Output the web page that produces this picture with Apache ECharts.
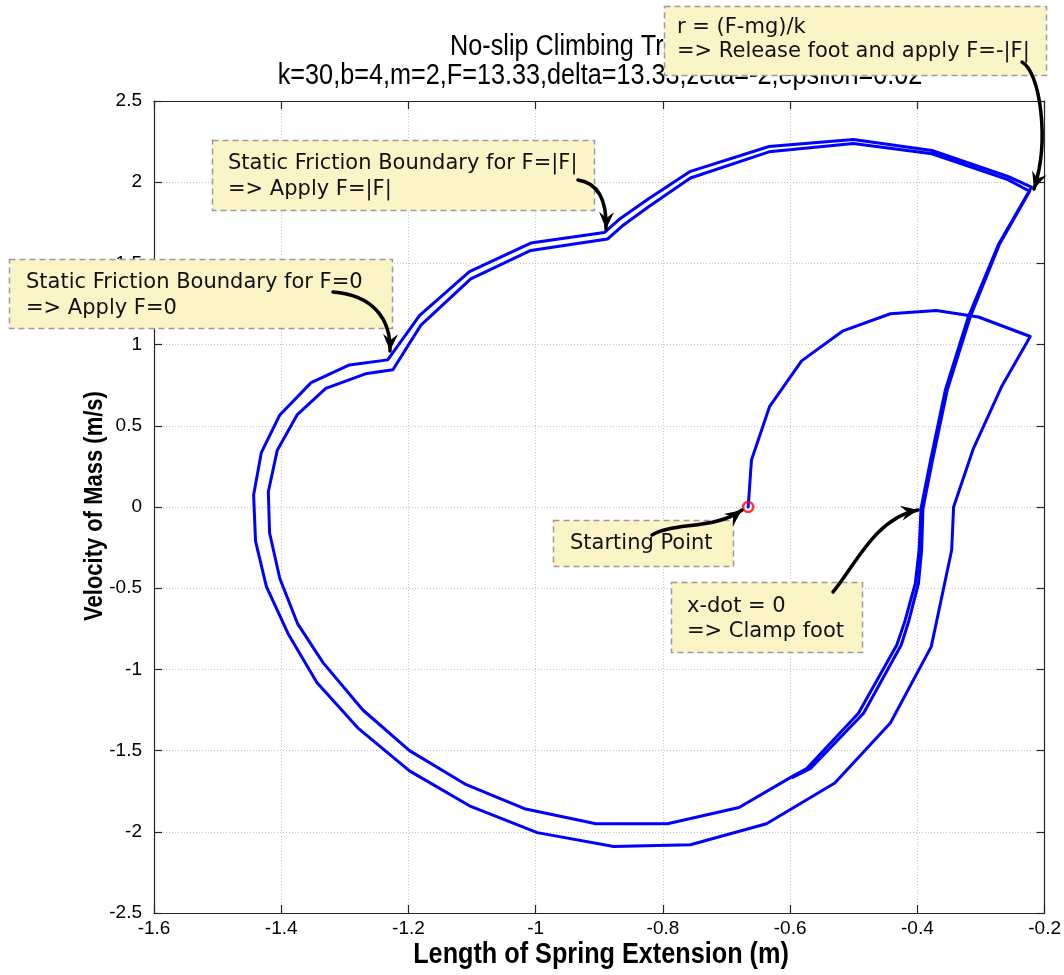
<!DOCTYPE html>
<html>
<head>
<meta charset="utf-8">
<script src="https://cdn.jsdelivr.net/npm/echarts@6/dist/echarts.min.js"></script>
<style>
  html, body { margin: 0; padding: 0; background: #fff; overflow: hidden; }
  #chart { width: 1064px; height: 975px; }
</style>
</head>
<body>
<div id="chart"></div>
<script>
// ---------------- data ----------------
const xTicks = [-1.6, -1.4, -1.2, -1.0, -0.8, -0.6, -0.4, -0.2];
const yTicks = [-2.5, -2, -1.5, -1, -0.5, 0, 0.5, 1, 1.5, 2, 2.5];

const startPoint = [[-0.666, 0.0]];

// start -> release point
const climbToRelease = [
  [-0.666, 0.0], [-0.6608, 0.29], [-0.6322, 0.62], [-0.5820, 0.90], [-0.5168, 1.085],
  [-0.4425, 1.19], [-0.3702, 1.21], [-0.3039, 1.17], [-0.2226, 1.05]
];
// first descent (outer right)
const firstDescent = [
  [-0.2678, 0.74], [-0.3120, 0.36], [-0.3431, 0.0], [-0.3461, -0.265], [-0.3782, -0.86],
  [-0.4425, -1.33], [-0.5298, -1.70], [-0.6372, -1.95]
];
// outer loop: bottom, left side, top
const outerLoop = [
  [-0.7567, -2.08], [-0.8772, -2.09], [-0.9976, -2.005], [-1.1041, -1.84], [-1.1984, -1.625],
  [-1.2798, -1.36], [-1.3440, -1.08], [-1.3892, -0.78], [-1.4233, -0.49], [-1.4404, -0.21],
  [-1.4434, 0.074], [-1.4313, 0.335], [-1.4022, 0.567], [-1.3530, 0.766], [-1.2928, 0.875],
  [-1.2326, 0.906], [-1.1824, 1.18], [-1.1041, 1.45], [-1.0077, 1.625], [-0.8922, 1.69],
  [-0.8691, 1.77], [-0.8220, 1.90], [-0.7567, 2.067], [-0.6332, 2.22], [-0.5007, 2.263],
  [-0.3772, 2.195], [-0.2578, 2.036], [-0.2206, 1.97]
];
// second descent (inner right)
const secondDescent = [
  [-0.2728, 1.615], [-0.3200, 1.17], [-0.3561, 0.72], [-0.3802, 0.27], [-0.3943, -0.01],
  [-0.3973, -0.265], [-0.4033, -0.47], [-0.4194, -0.70], [-0.4324, -0.85], [-0.4927, -1.27],
  [-0.5740, -1.61], [-0.5971, -1.66], [-0.6804, -1.85]
];
// inner loop: bottom, left side, top
const innerLoop = [
  [-0.7929, -1.95], [-0.9053, -1.95], [-1.0157, -1.86], [-1.1091, -1.71], [-1.1984, -1.50],
  [-1.2717, -1.25], [-1.3340, -0.96], [-1.3741, -0.72], [-1.4022, -0.44], [-1.4183, -0.16],
  [-1.4203, 0.094], [-1.4062, 0.35], [-1.3751, 0.567], [-1.3300, 0.73], [-1.2677, 0.82],
  [-1.2245, 0.845], [-1.1804, 1.12], [-1.1021, 1.405], [-1.0077, 1.58], [-0.8872, 1.65],
  [-0.8641, 1.73], [-0.8220, 1.85], [-0.7567, 2.026], [-0.6332, 2.187], [-0.5007, 2.238],
  [-0.3772, 2.175], [-0.2578, 2.016], [-0.2236, 1.944]
];
// third descent, nearly on top of the second one
const thirdDescent = [
  [-0.2708, 1.62], [-0.3170, 1.17], [-0.3531, 0.72], [-0.3772, 0.27], [-0.3913, -0.01],
  [-0.3933, -0.265], [-0.3983, -0.47], [-0.4134, -0.70], [-0.4254, -0.85], [-0.4846, -1.27],
  [-0.5680, -1.61], [-0.5961, -1.665]
];

const trajectory = [].concat(climbToRelease, firstDescent, outerLoop, secondDescent, innerLoop, thirdDescent);

const titleText = 'No-slip Climbing Trajectory';
const subtitleText = 'k=30,b=4,m=2,F=13.33,delta=13.33,zeta=-2,epsilon=0.02';
const xName = 'Length of Spring Extension (m)';
const yName = 'Velocity of Mass (m/s)';

// annotations (text boxes with arrows, placed in pixels)
const notes = [
  { box: [664, 6, 382, 69], tx: 677, lines: ['r = (F-mg)/k', '=> Release foot and apply F=-|F|'], ly: [28, 52],
    arrow: [1022, 62, 1040, 72, 1050, 140, 1034, 189] },
  { box: [212, 140, 382, 70], tx: 228, lines: ['Static Friction Boundary for F=|F|', '=> Apply F=|F|'], ly: [164, 190],
    arrow: [578, 180, 598, 183, 607, 200, 606, 229] },
  { box: [9, 259, 383, 69], tx: 26, lines: ['Static Friction Boundary for F=0', '=> Apply F=0'], ly: [283, 309],
    arrow: [333, 292, 372, 295, 391, 318, 390, 351] },
  { box: [553, 520, 180, 46], tx: 570, lines: ['Starting Point'], ly: [544],
    arrow: [652, 535, 672, 522, 715, 530, 742, 510] },
  { box: [671, 582, 191, 70], tx: 687, lines: ['x-dot = 0', '=> Clamp foot'], ly: [607, 632],
    arrow: [833, 592, 855, 566, 875, 518, 918, 510] }
];

// ---------------- chart ----------------
const SANS = "'Liberation Sans',Arial,Helvetica,sans-serif";
const BOXFONT = "'DejaVu Sans',Verdana,sans-serif";
const chart = echarts.init(document.getElementById('chart'), null, { renderer: 'canvas', width: 1064, height: 975 });

const graphics = [];
notes.forEach(n => {
  graphics.push({
    type: 'rect', z: 100,
    shape: { x: n.box[0] + 0.5, y: n.box[1] + 0.5, width: n.box[2], height: n.box[3] },
    style: { fill: '#faf4c6', stroke: '#9a9a9a', lineWidth: 1.5, lineDash: [6, 4] }
  });
  n.lines.forEach((t, i) => {
    graphics.push({
      type: 'text', z: 101,
      style: { text: t, x: n.tx, y: n.ly[i], fontFamily: BOXFONT, fontSize: 21,
               fill: '#111', verticalAlign: 'middle', align: 'left' }
    });
  });
  const a = n.arrow;
  graphics.push({
    type: 'bezierCurve', z: 102,
    shape: { x1: a[0], y1: a[1], cpx1: a[2], cpy1: a[3], cpx2: a[4], cpy2: a[5], x2: a[6], y2: a[7] },
    style: { stroke: '#000', lineWidth: 3.5, fill: null, lineCap: 'round' }
  });
  const dx = a[6] - a[4], dy = a[7] - a[5];
  const L = Math.hypot(dx, dy), ux = dx / L, uy = dy / L;
  const hl = 17, hw = 7.5;
  const bx = a[6] - ux * hl, by = a[7] - uy * hl;
  graphics.push({
    type: 'polygon', z: 103,
    shape: { points: [[a[6], a[7]], [bx - uy * hw, by + ux * hw], [a[6] - ux * hl * 0.65, a[7] - uy * hl * 0.65], [bx + uy * hw, by - ux * hw]] },
    style: { fill: '#000' }
  });
});

// title lines (drawn under the first annotation box), condensed like the reference
graphics.push({ type: 'text', z: 50, x: 601, y: 47, scaleX: 0.87,
  style: { text: titleText, x: 0, y: 0, align: 'center', verticalAlign: 'middle',
  fontFamily: SANS, fontSize: 29, fill: '#000' } });
graphics.push({ type: 'text', z: 50, x: 600, y: 76, scaleX: 0.87,
  style: { text: subtitleText, x: 0, y: 0, align: 'center', verticalAlign: 'middle',
  fontFamily: SANS, fontSize: 29, fill: '#000' } });
// axis names
graphics.push({ type: 'text', z: 50, x: 601, y: 955, scaleX: 0.87,
  style: { text: xName, x: 0, y: 0, align: 'center', verticalAlign: 'middle',
  fontFamily: SANS, fontSize: 29, fontWeight: 'bold', fill: '#000' } });
graphics.push({ type: 'text', z: 50, rotation: Math.PI / 2, x: 95, y: 506, scaleX: 0.88,
  style: { text: yName, x: 0, y: 0, align: 'center', verticalAlign: 'middle',
  fontFamily: SANS, fontSize: 25, fontWeight: 'bold', fill: '#000' } });

const axisLineStyle = { color: '#262626', width: 1.2 };
const tickLabel = { color: '#000', fontFamily: SANS, fontSize: 19 };

const option = {
  animation: false,
  backgroundColor: '#fff',
  grid: { left: 154, right: 17, top: 101, bottom: 62, containLabel: false },
  xAxis: [
    { type: 'value', min: xTicks[0], max: xTicks[xTicks.length - 1], interval: 0.2, position: 'bottom',
      axisLine: { show: true, onZero: false, lineStyle: axisLineStyle },
      axisTick: { show: true, inside: true, length: 8, lineStyle: axisLineStyle },
      axisLabel: { ...tickLabel, margin: 6, formatter: v => String(Math.round(v * 10) / 10) },
      splitLine: { show: true, lineStyle: { color: '#c4c4c4', type: [1, 2], width: 1 } } },
    { type: 'value', min: xTicks[0], max: xTicks[xTicks.length - 1], interval: 0.2, position: 'top',
      axisLine: { show: true, onZero: false, lineStyle: axisLineStyle },
      axisTick: { show: true, inside: true, length: 8, lineStyle: axisLineStyle },
      axisLabel: { show: false }, splitLine: { show: false } }
  ],
  yAxis: [
    { type: 'value', min: yTicks[0], max: yTicks[yTicks.length - 1], interval: 0.5, position: 'left',
      axisLine: { show: true, onZero: false, lineStyle: axisLineStyle },
      axisTick: { show: true, inside: true, length: 8, lineStyle: axisLineStyle },
      axisLabel: { ...tickLabel, margin: 12, formatter: v => String(Math.round(v * 10) / 10) },
      splitLine: { show: true, lineStyle: { color: '#c4c4c4', type: [1, 2], width: 1 } } },
    { type: 'value', min: yTicks[0], max: yTicks[yTicks.length - 1], interval: 0.5, position: 'right',
      axisLine: { show: true, onZero: false, lineStyle: axisLineStyle },
      axisTick: { show: true, inside: true, length: 8, lineStyle: axisLineStyle },
      axisLabel: { show: false }, splitLine: { show: false } }
  ],
  series: [
    { type: 'line', xAxisIndex: 0, yAxisIndex: 0, data: trajectory, showSymbol: false, symbol: 'none',
      lineStyle: { color: '#0000ff', width: 3, join: 'round', cap: 'round' }, z: 5, silent: true },
    { type: 'scatter', xAxisIndex: 0, yAxisIndex: 0, data: startPoint, symbol: 'circle', symbolSize: 10,
      itemStyle: { color: 'rgba(255,255,255,0)', borderColor: '#ff0000', borderWidth: 2.5 }, z: 6, silent: true }
  ],
  graphic: graphics
};
chart.setOption(option);
</script>
</body>
</html>
